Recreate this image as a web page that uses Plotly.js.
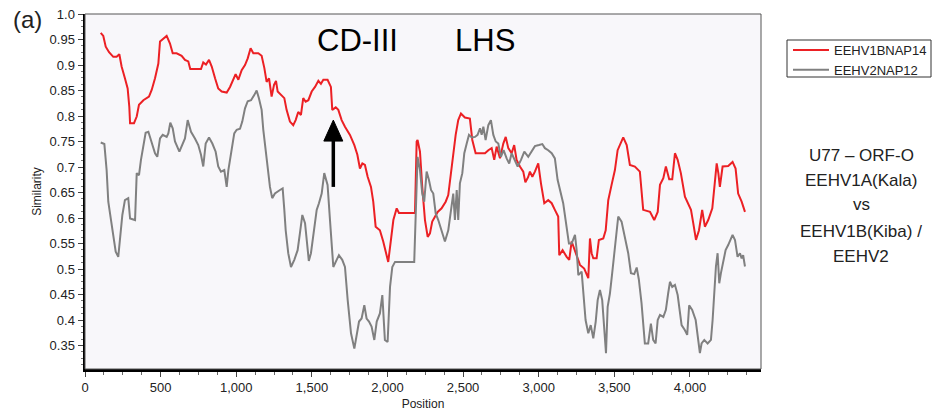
<!DOCTYPE html>
<html>
<head>
<meta charset="utf-8">
<script src="https://cdn.plot.ly/plotly-3.0.1.min.js"></script>
<style>
html,body{margin:0;padding:0;background:#fff;}
#chart{width:932px;height:417px;}
</style>
</head>
<body>
<div id="chart"></div>
<script>
// ---- data ----
const seriesNames = ["EEHV1BNAP14", "EEHV2NAP12"];

const redPos = [104,121,137,159,187,209,227,242,264,282,293,298,324,342,357,386,423,441,463,485,496,518,540,562,580,606,639,661,683,696,767,782,800,820,838,860,881,904,937,959,981,996,1014,1036,1058,1076,1095,1113,1146,1168,1186,1201,1217,1223,1234,1250,1263,1274,1296,1318,1333,1355,1377,1393,1410,1428,1443,1459,1477,1499,1521,1543,1560,1576,1604,1626,1635,1658,1675,1697,1719,1752,1781,1801,1818,1834,1851,1869,1891,1906,1922,1950,1972,1995,2005,2023,2039,2061,2076,2182,2193,2199,2215,2230,2248,2266,2281,2296,2314,2332,2358,2385,2402,2420,2435,2451,2468,2486,2512,2545,2561,2583,2645,2667,2689,2706,2722,2744,2766,2782,2799,2821,2838,2854,2876,2898,2912,2930,2942,2958,2975,2997,3015,3037,3063,3086,3107,3129,3136,3158,3185,3202,3218,3240,3273,3301,3328,3339,3350,3361,3383,3398,3427,3443,3460,3482,3504,3522,3544,3559,3582,3603,3636,3669,3691,3736,3764,3787,3802,3824,3841,3863,3883,3901,3919,3940,3967,3989,4007,4022,4040,4060,4081,4099,4121,4148,4161,4177,4188,4198,4216,4253,4282,4302,4319,4342,4364];
const redSim = [0.963,0.957,0.936,0.925,0.916,0.916,0.921,0.897,0.874,0.854,0.818,0.786,0.786,0.799,0.822,0.831,0.838,0.851,0.874,0.903,0.946,0.952,0.957,0.942,0.923,0.923,0.918,0.910,0.907,0.892,0.892,0.905,0.901,0.910,0.897,0.874,0.854,0.848,0.846,0.857,0.874,0.882,0.871,0.890,0.900,0.913,0.933,0.923,0.923,0.918,0.894,0.867,0.874,0.861,0.838,0.861,0.869,0.848,0.841,0.835,0.812,0.789,0.782,0.792,0.808,0.802,0.835,0.828,0.831,0.848,0.857,0.869,0.863,0.871,0.871,0.857,0.812,0.817,0.812,0.792,0.779,0.763,0.743,0.724,0.697,0.707,0.704,0.681,0.661,0.632,0.583,0.576,0.554,0.524,0.514,0.557,0.596,0.619,0.610,0.610,0.750,0.753,0.730,0.661,0.596,0.563,0.570,0.593,0.603,0.612,0.619,0.632,0.645,0.688,0.727,0.763,0.792,0.805,0.797,0.795,0.753,0.727,0.727,0.733,0.737,0.714,0.740,0.717,0.746,0.759,0.737,0.727,0.743,0.714,0.701,0.691,0.670,0.680,0.691,0.681,0.691,0.707,0.668,0.629,0.635,0.629,0.616,0.603,0.527,0.537,0.524,0.518,0.554,0.537,0.508,0.501,0.482,0.560,0.531,0.521,0.521,0.557,0.560,0.576,0.635,0.665,0.694,0.733,0.746,0.758,0.743,0.704,0.701,0.691,0.616,0.612,0.596,0.612,0.665,0.678,0.701,0.676,0.676,0.727,0.714,0.688,0.642,0.629,0.616,0.590,0.557,0.576,0.616,0.583,0.596,0.619,0.665,0.707,0.688,0.661,0.701,0.702,0.710,0.697,0.648,0.632,0.612];

const grayPos = [104,128,143,154,172,187,203,220,231,247,264,286,298,331,342,357,370,386,401,419,441,463,478,496,514,540,551,564,580,595,624,643,661,679,701,727,749,767,782,798,820,842,864,881,899,921,937,948,965,987,1003,1025,1040,1058,1076,1098,1119,1135,1150,1168,1179,1195,1208,1223,1238,1256,1289,1307,1318,1327,1344,1362,1384,1406,1421,1437,1455,1472,1480,1494,1510,1532,1547,1565,1582,1604,1620,1631,1642,1664,1679,1701,1719,1737,1759,1781,1796,1812,1829,1847,1862,1878,1895,1913,1929,1950,1966,1983,2001,2017,2032,2050,2177,2186,2199,2215,2230,2243,2259,2274,2288,2303,2319,2336,2358,2380,2402,2420,2435,2446,2458,2468,2479,2495,2508,2524,2539,2557,2579,2596,2612,2623,2634,2649,2667,2684,2700,2716,2733,2750,2768,2788,2805,2821,2843,2861,2883,2905,2931,2953,2975,3002,3024,3041,3063,3086,3107,3125,3140,3162,3178,3191,3200,3218,3240,3251,3262,3284,3295,3310,3328,3344,3361,3377,3390,3405,3420,3433,3445,3456,3471,3486,3504,3526,3548,3570,3592,3610,3632,3648,3662,3680,3691,3702,3724,3742,3757,3773,3787,3802,3824,3841,3856,3868,3883,3901,3919,3934,3945,3967,3982,3995,4015,4038,4055,4066,4077,4095,4117,4139,4150,4161,4172,4183,4194,4205,4220,4236,4253,4271,4282,4298,4315,4331,4342,4352,4364];
const graySim = [0.748,0.745,0.694,0.632,0.596,0.563,0.534,0.524,0.557,0.606,0.635,0.639,0.599,0.596,0.688,0.684,0.714,0.746,0.767,0.769,0.746,0.727,0.720,0.756,0.763,0.759,0.766,0.787,0.776,0.750,0.730,0.743,0.756,0.792,0.769,0.756,0.743,0.724,0.701,0.746,0.758,0.746,0.730,0.701,0.691,0.694,0.661,0.694,0.727,0.766,0.773,0.775,0.789,0.815,0.829,0.831,0.841,0.850,0.835,0.812,0.773,0.733,0.688,0.661,0.639,0.648,0.655,0.658,0.616,0.576,0.531,0.504,0.518,0.537,0.570,0.606,0.590,0.544,0.516,0.531,0.563,0.616,0.629,0.648,0.688,0.665,0.596,0.537,0.504,0.518,0.527,0.518,0.504,0.439,0.374,0.344,0.374,0.397,0.403,0.429,0.403,0.397,0.387,0.361,0.397,0.413,0.449,0.361,0.357,0.465,0.504,0.514,0.514,0.609,0.720,0.694,0.648,0.632,0.691,0.675,0.655,0.648,0.609,0.596,0.576,0.554,0.576,0.616,0.648,0.596,0.655,0.596,0.668,0.688,0.727,0.746,0.763,0.758,0.759,0.763,0.776,0.763,0.779,0.753,0.782,0.792,0.763,0.750,0.746,0.720,0.733,0.717,0.707,0.727,0.714,0.701,0.714,0.730,0.720,0.730,0.741,0.743,0.745,0.737,0.733,0.727,0.717,0.675,0.655,0.629,0.596,0.570,0.550,0.550,0.567,0.537,0.488,0.495,0.446,0.400,0.374,0.390,0.364,0.397,0.439,0.459,0.439,0.387,0.335,0.426,0.452,0.492,0.544,0.603,0.593,0.563,0.531,0.492,0.490,0.503,0.480,0.433,0.387,0.354,0.354,0.393,0.361,0.354,0.400,0.410,0.406,0.420,0.452,0.475,0.465,0.469,0.449,0.420,0.390,0.380,0.371,0.429,0.420,0.400,0.354,0.335,0.354,0.361,0.354,0.361,0.400,0.465,0.505,0.531,0.472,0.492,0.514,0.537,0.547,0.560,0.567,0.557,0.524,0.531,0.521,0.527,0.505];

const yTickVals = [0.35,0.4,0.45,0.5,0.55,0.6,0.65,0.7,0.75,0.8,0.85,0.9,0.95,1.0];
const yTickText = ["0.35","0.4","0.45","0.5","0.55","0.6","0.65","0.7","0.75","0.8","0.85","0.9","0.95","1.0"];

const regionLabels = ["CD-III", "LHS"];
const regionPos = [1805, 2645];
const arrowPos = 1642, arrowTail = 0.661, arrowTip = 0.792;
const sideText = ["U77 \u2013 ORF-O", "EEHV1A(Kala)", "vs", "EEHV1B(Kiba) /", "EEHV2"];

// ---- chart ----
const FONT = "Liberation Sans, Arial, Helvetica, sans-serif";
const W = 932, H = 417, ML = 85, MR = 171, MT = 14, MB = 48;
const PW = W - ML - MR, PH = H - MT - MB;
const px2x = p => (p - ML) / PW;           // pixel -> paper x
const py2y = p => 1 - (p - MT) / PH;       // pixel -> paper y

const traces = [
  {x: redPos, y: redSim, name: seriesNames[0], type: "scatter", mode: "lines",
   line: {color: "#ec2024", width: 2}},
  {x: grayPos, y: graySim, name: seriesNames[1], type: "scatter", mode: "lines",
   line: {color: "#808080", width: 2}}
];

const sideY = [155, 180, 205, 231, 256];
const sideAnn = sideText.map((t, i) => ({
  x: px2x(861), y: py2y(sideY[i]), xref: "paper", yref: "paper", text: t, showarrow: false,
  xanchor: "center", yanchor: "middle", font: {family: FONT, size: 17, color: "#222"}
}));

const layout = {
  width: W, height: H,
  margin: {l: ML, r: MR, t: MT, b: MB, autoexpand: false},
  paper_bgcolor: "#ffffff",
  plot_bgcolor: "#f8f7fa",
  font: {family: FONT, color: "#222", size: 13},
  showlegend: true,
  legend: {
    x: px2x(788), y: py2y(35), xanchor: "left", yanchor: "top",
    borderwidth: 0, bgcolor: "rgba(0,0,0,0)", itemwidth: 36,
    font: {family: FONT, size: 13, color: "#222"},
    tracegroupgap: 0
  },
  xaxis: {
    range: [0, 4470], tickmode: "linear", tick0: 0, dtick: 500, tickformat: ",d",
    showgrid: false, zeroline: false,
    showline: true, linecolor: "#000", linewidth: 2.5,
    ticks: "outside", ticklen: 5, tickcolor: "#444", tickwidth: 1,
    minor: {dtick: 125, tick0: 0, ticks: "outside", ticklen: 3, tickcolor: "#666", showgrid: false},
    tickfont: {family: FONT, size: 13, color: "#222"},
    title: {text: "Position", font: {family: FONT, size: 12, color: "#222"}, standoff: 6}
  },
  yaxis: {
    range: [0.304, 1.0], tickmode: "array", tickvals: yTickVals, ticktext: yTickText,
    showgrid: false, zeroline: false,
    showline: true, linecolor: "#000", linewidth: 2.5,
    ticks: "outside", ticklen: 5, tickcolor: "#444", tickwidth: 1,
    minor: {dtick: 0.0125, tick0: 0, ticks: "outside", ticklen: 2, tickcolor: "#777", showgrid: false},
    tickfont: {family: FONT, size: 13, color: "#222"},
    title: {text: "Similarity", font: {family: FONT, size: 12, color: "#222"}, standoff: 6}
  },
  shapes: [
    {type: "rect", xref: "paper", yref: "paper", x0: 0, x1: 1, y0: 0, y1: 1,
     line: {color: "#555", width: 1}, fillcolor: "rgba(0,0,0,0)", layer: "above"},
    {type: "rect", xref: "paper", yref: "paper", x0: px2x(787), x1: px2x(931), y0: py2y(77), y1: py2y(40),
     line: {color: "#333", width: 1}, fillcolor: "#ffffff", layer: "above"},
    {type: "line", xref: "x", yref: "y", x0: arrowPos, x1: arrowPos, y0: arrowTail, y1: arrowTip - 0.03,
     line: {color: "#000", width: 3.5}},
    {type: "path", xref: "x", yref: "y", xsizemode: "pixel", ysizemode: "pixel",
     xanchor: arrowPos, yanchor: arrowTip,
     path: "M -9.5 -21 L 9.5 -21 L 0 0 Z", fillcolor: "#000", line: {color: "#000", width: 1}}
  ],
  annotations: [
    {x: regionPos[0], y: 0.949, xref: "x", yref: "y", text: regionLabels[0], showarrow: false,
     font: {family: FONT, size: 31, color: "#000"}},
    {x: regionPos[1], y: 0.949, xref: "x", yref: "y", text: regionLabels[1], showarrow: false,
     font: {family: FONT, size: 31, color: "#000"}},
    {x: px2x(27), y: py2y(20), xref: "paper", yref: "paper", text: "(a)", showarrow: false,
     xanchor: "center", yanchor: "middle", font: {family: FONT, size: 24, color: "#222"}}
  ].concat(sideAnn)
};

Plotly.newPlot("chart", traces, layout, {displayModeBar: false, staticPlot: true});
</script>
</body>
</html>
